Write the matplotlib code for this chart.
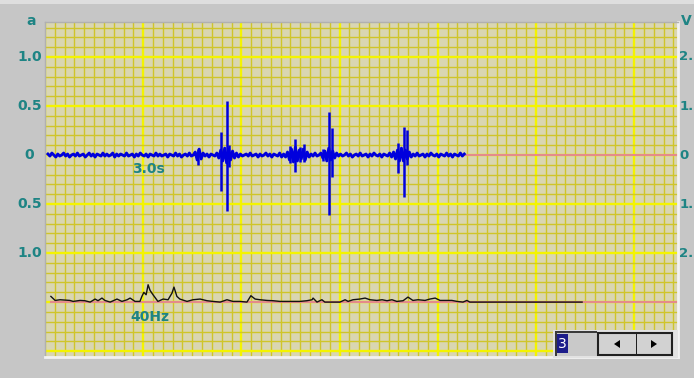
import numpy as np
import matplotlib
matplotlib.use("Agg")
import matplotlib.pyplot as plt
from matplotlib.patches import Rectangle, Polygon
from matplotlib.transforms import blended_transform_factory

# ── Data ─────────────────────────────────────────────────────────────────────
# time axis in seconds, one major grid division = 3.0 s
T_MAX = 19.34
Y_MIN, Y_MAX = -2.06, 1.357

# blue trace: baseline noise (hundredths of "a"), sampled every DT from T0
T0, DT = 0.09, 0.06
blue_noise_c = [
    1, -1, 2, 0, -2, 1, -1, 0, 2, -1, 1, -2, 0, 1, -1, 2, -1, 0, 1, -2,
    0, 2, -1, 1, -2, 1, 0, -1, 2, -1, 1, -1, 0, 2, -2, 1, -1, 1, 0, -1,
    2, -1, 0, 1, -2, 1, -1, 2, 0, -1, 1, -2, 1, 0, -1, 2, -1, 1, -1, 0,
    1, -2, 1, 0, -1, 2, -1, 1, -2, 0, 1, -1, 2, -1, 0, 3, -5, 6, -4, 2,
    -1, 1, -2, 1, 0, -1, 2, -3, 5, -6, 7, -8, 6, -5, 4, -3, 2, -2, 1, -1,
    0, 1, -1, 2, -1, 0, 1, -2, 1, -1, 0, 2, -1, 1, -2, 1, 0, -1, 2, -2,
    1, -2, 3, -5, 6, -7, 8, -6, 5, -4, 6, -5, 3, -2, 1, -1, 2, -1, 0, 2,
    -3, 4, -6, 7, -5, 4, -3, 2, -1, 1, -1, 0, 2, -1, 1, -2, 0, 1, -1, 2,
    -1, 0, 1, -2, 1, -1, 2, 0, -1, 1, -2, 1, 0, -1, 2, -2, 3, -4, 5, -6,
    7, -6, 5, -4, 3, -2, 1, -1, 2, -1, 0, 1, -2, 1, -1, 2, 0, -1, 1, -2,
    1, 0, -1, 2, -1, 1, -2, 1, 0, -1, 2, -1, 1,
]

# blue spikes: time, positive peak, negative peak
spike_t    = [4.67, 5.37, 5.55, 5.62, 7.49, 7.64, 7.79, 7.91, 8.49, 8.68, 8.76, 10.78, 10.97, 11.05]
spike_high = [0.06, 0.238, 0.554, 0.10, 0.092, 0.160, 0.08, 0.112, 0.06, 0.442, 0.276, 0.122, 0.289, 0.255]
spike_low  = [-0.10, -0.364, -0.568, -0.12, -0.082, -0.170, -0.07, -0.068, -0.06, -0.612, -0.224, -0.181, -0.429, -0.10]

# black trace (40Hz band) above its baseline
BLACK_BASE = -1.5
black_t = [
    0.18, 0.31, 0.46, 0.76, 0.86, 1.07, 1.22, 1.38, 1.53, 1.62, 1.74, 1.83, 1.99, 2.20,
    2.35, 2.51, 2.60, 2.75, 2.90, 2.96, 3.02, 3.09, 3.15, 3.21, 3.30, 3.45, 3.61, 3.76,
    3.88, 3.94, 4.03, 4.12, 4.34, 4.52, 4.74, 4.95, 5.13, 5.35, 5.56, 5.74, 5.96, 6.17,
    6.29, 6.42, 6.57, 6.78, 6.97, 7.18, 7.39, 7.58, 7.79, 8.00, 8.16, 8.19, 8.31, 8.46,
    8.55, 8.71, 9.01, 9.17, 9.26, 9.41, 9.62, 9.78, 9.93, 10.14, 10.30, 10.45, 10.60,
    10.75, 10.94, 11.09, 11.24, 11.40, 11.61, 11.76, 11.92, 12.07, 12.28, 12.43, 12.59,
    12.77, 12.89, 12.98, 16.41,
]
black_val = [
    0.058, 0.017, 0.024, 0.017, 0.007, 0.017, 0.014, 0.0, 0.031, 0.014, 0.041, 0.017, 0.0, 0.031,
    0.007, 0.024, 0.041, 0.007, 0.007, 0.058, 0.099, 0.075, 0.177, 0.119, 0.075, 0.007, 0.031, 0.024,
    0.092, 0.153, 0.058, 0.031, 0.007, 0.024, 0.031, 0.014, 0.007, 0.0, 0.024, 0.007, 0.007, 0.0,
    0.065, 0.031, 0.024, 0.017, 0.014, 0.007, 0.007, 0.007, 0.007, 0.014, 0.024, 0.041, 0.0, 0.024,
    0.0, 0.0, 0.0, 0.024, 0.007, 0.024, 0.031, 0.041, 0.024, 0.017, 0.024, 0.014, 0.024,
    0.007, 0.014, 0.051, 0.017, 0.024, 0.017, 0.031, 0.041, 0.017, 0.017, 0.017, 0.007,
    0.0, 0.017, 0.0, 0.0,
]

left_ticks = [1.0, 0.5, 0.0, -0.5, -1.0]
left_labels = ["1.0", "0.5", "0", "0.5", "1.0"]
right_labels = ["2.", "1.", "0", "1.", "2."]   # cut off by the window edge

# ── Styles ───────────────────────────────────────────────────────────────────
W, H = 694, 378
FIG_BG   = "#c6c6c6"
PLOT_BG  = "#d9d6b2"
MINOR_C  = "#cfc52a"
MAJOR_C  = "#f4f400"
TEAL     = "#1e8484"
PINK     = "#e58a8a"
BLUE     = "#0000dd"


def px_rect(fig, x, y, w, h, **kw):
    """Rectangle given in image pixels (top-left origin)."""
    r = Rectangle((x / W, 1 - (y + h) / H), w / W, h / H,
                  transform=fig.transFigure, **kw)
    fig.add_artist(r)
    return r


fig = plt.figure(figsize=(W / 100, H / 100), dpi=100, facecolor=FIG_BG)
px_rect(fig, 0, 0, W, 4, facecolor="#dedede", edgecolor="none", zorder=0)

ax = fig.add_axes([45 / W, 1 - 357 / H, 633 / W, 335 / H])
ax.set_facecolor(PLOT_BG)
ax.set_xlim(0, T_MAX)
ax.set_ylim(Y_MIN, Y_MAX)

ax.set_xticks(np.arange(0, T_MAX, 3.0))
ax.set_xticks(np.arange(0, T_MAX, 0.3), minor=True)
ax.set_yticks(np.arange(-2.0, 1.4, 0.5))
ax.set_yticks(np.arange(-2.0, 1.4, 0.1), minor=True)
ax.grid(which="minor", color=MINOR_C, lw=1.0)
ax.grid(which="major", color=MAJOR_C, lw=1.7)
ax.set_axisbelow(True)
ax.tick_params(which="both", length=0, labelbottom=False, labelleft=False)
for side in ["left", "top"]:
    ax.spines[side].set_color("#b0b0b0")
    ax.spines[side].set_linewidth(1)
for side in ["bottom", "right"]:
    ax.spines[side].set_color("#f2f2f2")
    ax.spines[side].set_linewidth(2)

# pink zero lines
ax.plot([12.86, T_MAX], [0, 0], color=PINK, lw=1.5, zorder=2)
ax.plot([black_t[0], T_MAX], [BLACK_BASE, BLACK_BASE], color=PINK, lw=1.5, zorder=2)

# blue trace
blue_t = T0 + DT * np.arange(len(blue_noise_c))
ax.plot(blue_t, np.array(blue_noise_c) / 100.0, color=BLUE, lw=2.1, zorder=3)
ax.vlines(spike_t, spike_low, spike_high, color=BLUE, lw=1.8, zorder=3)

# black trace
ax.plot(black_t, BLACK_BASE + np.array(black_val), color="#111111", lw=1.0, zorder=4)

# axis labels
trans = blended_transform_factory(ax.transAxes, ax.transData)
lab = dict(color=TEAL, fontsize=10, fontweight="bold", va="center")
rlab = dict(lab, fontsize=9.5)
for yv, l, r in zip(left_ticks, left_labels, right_labels):
    ax.text((29.5 - 45) / 633, yv, l, transform=trans, ha="center", clip_on=False, **lab)
    ax.text((679.5 - 45) / 633, yv, r, transform=trans, ha="left", clip_on=False, **rlab)
fig.text(31 / W, 1 - 21 / H, "a", ha="center", **lab)
fig.text(686 / W, 1 - 21 / H, "V", ha="center", **lab)

ax.text(3.15, -0.14, "3.0s", ha="center", **lab)
ax.text(3.2, -1.65, "40Hz", ha="center", **lab)

# scroll widget, bottom right
px_rect(fig, 553, 330, 125, 28, facecolor="#e2e2e2", edgecolor="none", zorder=5)
px_rect(fig, 555, 331, 42, 25, facecolor="#c9c9c9", edgecolor="none", zorder=6)
px_rect(fig, 555, 331, 42, 1.5, facecolor="#3a3a3a", edgecolor="none", zorder=7)
px_rect(fig, 555, 331, 1.5, 25, facecolor="#3a3a3a", edgecolor="none", zorder=7)
px_rect(fig, 557, 334, 11, 19, facecolor="#1c1c8a", edgecolor="none", zorder=7)
fig.text(562.5 / W, 1 - 343.5 / H, "3", color="white", fontsize=10,
         ha="center", va="center", zorder=8)
px_rect(fig, 598, 333, 74, 22, facecolor="#d2d2d2", edgecolor="#202020", lw=1.5, zorder=6)
px_rect(fig, 635.5, 333, 1.5, 22, facecolor="#202020", edgecolor="none", zorder=7)
for cx, d in [(617, -1), (654, 1)]:
    tri = Polygon([((cx - 3 * d) / W, 1 - 340 / H), ((cx - 3 * d) / W, 1 - 348 / H),
                   ((cx + 3 * d) / W, 1 - 344 / H)], closed=True,
                  transform=fig.transFigure, facecolor="black", edgecolor="none", zorder=8)
    fig.add_artist(tri)

fig.savefig("out.png", dpi=100, facecolor=FIG_BG)
